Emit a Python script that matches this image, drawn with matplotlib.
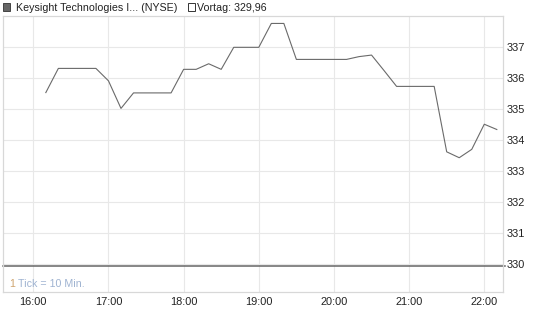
import matplotlib
matplotlib.use('Agg')
import matplotlib.pyplot as plt
from matplotlib.patches import Rectangle

plt.rcParams['font.family'] = ['Liberation Sans', 'DejaVu Sans']

# Intraday quotes, one tick every 10 minutes
times = [
    '16:10', '16:20', '16:30', '16:40', '16:50',
    '17:00', '17:10', '17:20', '17:30', '17:40', '17:50',
    '18:00', '18:10', '18:20', '18:30', '18:40', '18:50',
    '19:00', '19:10', '19:20', '19:30', '19:40', '19:50',
    '20:00', '20:10', '20:20', '20:30', '20:40', '20:50',
    '21:00', '21:10', '21:20', '21:30', '21:40', '21:50',
    '22:00', '22:10',
]
prices = [
    335.54, 336.32, 336.32, 336.32, 336.32,
    335.92, 335.03, 335.53, 335.53, 335.53, 335.53,
    336.29, 336.29, 336.47, 336.29, 337.00, 337.00,
    337.00, 337.77, 337.77, 336.61, 336.61, 336.61,
    336.61, 336.61, 336.70, 336.75, 336.25, 335.74,
    335.74, 335.74, 335.74, 333.63, 333.44, 333.71,
    334.52, 334.35,
]
prev_close = 329.96
hour_ticks = [16, 17, 18, 19, 20, 21, 22]
hour_labels = ['16:00', '17:00', '18:00', '19:00', '20:00', '21:00', '22:00']
price_ticks = [330, 331, 332, 333, 334, 335, 336, 337]

def to_hours(t: str) -> float:
    h, m = t.split(':')
    return int(h) + int(m) / 60

W, H = 545, 327
FS = 7.7
fig = plt.figure(figsize=(W / 100, H / 100), dpi=100)
ax = fig.add_axes([2.7 / W, 1 - 292 / H, (503.3 - 2.7) / W, (292 - 16) / H])

ax.set_xlim(15.593, 22.253)
ax.set_ylim(329.11, 338.01)

ax.set_xticks(hour_ticks)
ax.set_xticklabels(hour_labels)
ax.set_yticks(price_ticks)
ax.set_yticklabels([str(p) for p in price_ticks])
ax.yaxis.tick_right()
ax.tick_params(length=0, labelsize=FS + 0.2, colors='#222222')
ax.tick_params(axis='x', pad=3.5)
ax.tick_params(axis='y', pad=2.5)

ax.grid(True, color='#e8e8e8', linewidth=0.8)
ax.set_axisbelow(True)
for s in ax.spines.values():
    s.set_color('#d8d8d8')
    s.set_linewidth(0.9)

# previous close line, runs a little past the frame to its label
ax.axhline(prev_close, xmin=0, xmax=1.004, color='#666666', linewidth=1.1, clip_on=False)

ax.plot([to_hours(t) for t in times], prices, '-', color='#6a6a6a', linewidth=0.8)

# Footnote inside plot
ax.text(0.0126, 0.018, '1', transform=ax.transAxes, fontsize=FS, color='#cfa46e')
ax.text(0.0305, 0.018, 'Tick = 10 Min.', transform=ax.transAxes,
        fontsize=FS, color='#9fb3d1')

# Header legend
fig.patches.append(Rectangle((2.5 / W, 1 - 10.5 / H), 7 / W, 7 / H, transform=fig.transFigure,
                             facecolor='#666666', edgecolor='#444444', linewidth=0.7))
fig.text(15.5 / W, 1 - 8 / H, 'Keysight Technologies I... (NYSE)', fontsize=FS,
         color='#222222', va='center')
fig.patches.append(Rectangle((188 / W, 1 - 10.5 / H), 7 / W, 7 / H, transform=fig.transFigure,
                             facecolor='white', edgecolor='#333333', linewidth=0.7))
fig.text(197 / W, 1 - 8 / H, 'Vortag: 329,96', fontsize=FS, color='#222222', va='center')

fig.savefig('out.png', dpi=100)
